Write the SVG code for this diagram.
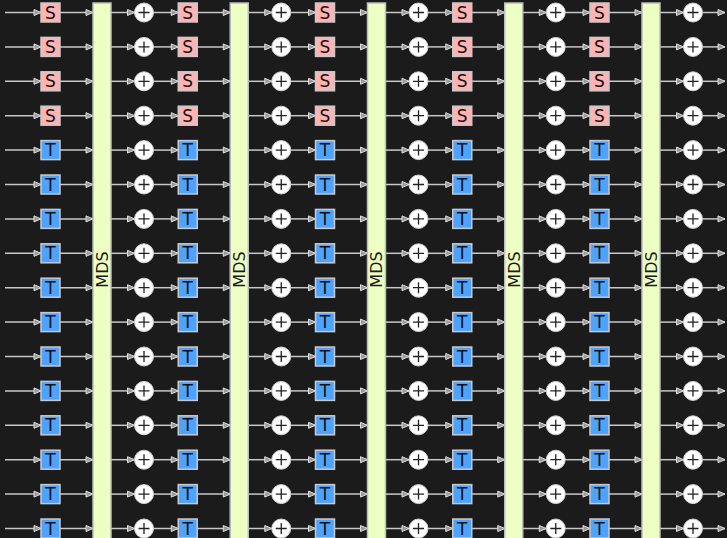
<svg xmlns="http://www.w3.org/2000/svg" xmlns:xlink="http://www.w3.org/1999/xlink" width="727" height="538" viewBox="0 0 727 538">
<style>
.bg{fill:#1b1b1b}
.s rect{fill:#ffb3b3;stroke:#c9c9c9;stroke-width:1.5}
.t rect{fill:#4da3ff;stroke:#c9c9c9;stroke-width:1.5}
.s text,.t text{font-family:"DejaVu Sans","Liberation Sans",sans-serif;font-size:17px;fill:#111;text-anchor:middle}
.x circle{fill:#fff;stroke:#cfcfcf;stroke-width:1}
.x path{stroke:#222;stroke-width:1.3;fill:none}
.m rect{fill:#eeffc4;stroke:#bdbdbd;stroke-width:1.5}
.m text{font-family:"DejaVu Sans","Liberation Sans",sans-serif;font-size:16px;fill:#1a1a1a;text-anchor:middle}
</style>
<defs>
<marker id="ah" markerUnits="userSpaceOnUse" markerWidth="10" markerHeight="10" refX="7.5" refY="3.5" orient="auto" overflow="visible">
<path d="M0.5,0.5 L7.5,3.5 L0.5,6.5 z" fill="#9a9a9a" stroke="#dedede" stroke-width="1"/>
</marker>
<g id="row" stroke="#c8c8c8" stroke-width="1.5" marker-end="url(#ah)">
<line x1="5" y1="0" x2="41" y2="0"/>
<line x1="60" y1="0" x2="93" y2="0"/><line x1="111" y1="0" x2="134.5" y2="0"/><line x1="153.5" y1="0" x2="178.25" y2="0"/>
<line x1="197.25" y1="0" x2="230.25" y2="0"/><line x1="248.25" y1="0" x2="271.75" y2="0"/><line x1="290.75" y1="0" x2="315.5" y2="0"/>
<line x1="334.5" y1="0" x2="367.5" y2="0"/><line x1="385.5" y1="0" x2="409" y2="0"/><line x1="428" y1="0" x2="452.75" y2="0"/>
<line x1="471.75" y1="0" x2="504.75" y2="0"/><line x1="522.75" y1="0" x2="546.25" y2="0"/><line x1="565.25" y1="0" x2="590" y2="0"/>
<line x1="609" y1="0" x2="642" y2="0"/><line x1="660" y1="0" x2="683.5" y2="0"/><line x1="702.5" y1="0" x2="725" y2="0"/>
</g>
</defs>
<rect class="bg" width="727" height="538"/>
<g id="conn">
<use xlink:href="#row" href="#row" y="12.5"/>
<use xlink:href="#row" href="#row" y="46.9"/>
<use xlink:href="#row" href="#row" y="81.3"/>
<use xlink:href="#row" href="#row" y="115.7"/>
<use xlink:href="#row" href="#row" y="150.1"/>
<use xlink:href="#row" href="#row" y="184.5"/>
<use xlink:href="#row" href="#row" y="218.9"/>
<use xlink:href="#row" href="#row" y="253.3"/>
<use xlink:href="#row" href="#row" y="287.7"/>
<use xlink:href="#row" href="#row" y="322.1"/>
<use xlink:href="#row" href="#row" y="356.5"/>
<use xlink:href="#row" href="#row" y="390.9"/>
<use xlink:href="#row" href="#row" y="425.3"/>
<use xlink:href="#row" href="#row" y="459.7"/>
<use xlink:href="#row" href="#row" y="494.1"/>
<use xlink:href="#row" href="#row" y="528.5"/>
</g>
<g id="mds">
<g id="mds1" class="m"><rect x="93" y="3" width="18" height="540"/><text transform="translate(107.8,269.5) rotate(-90)">MDS</text></g>
<g id="mds2" class="m"><rect x="230.25" y="3" width="18" height="540"/><text transform="translate(245.05,269.5) rotate(-90)">MDS</text></g>
<g id="mds3" class="m"><rect x="367.5" y="3" width="18" height="540"/><text transform="translate(382.3,269.5) rotate(-90)">MDS</text></g>
<g id="mds4" class="m"><rect x="504.75" y="3" width="18" height="540"/><text transform="translate(519.55,269.5) rotate(-90)">MDS</text></g>
<g id="mds5" class="m"><rect x="642" y="3" width="18" height="540"/><text transform="translate(656.8,269.5) rotate(-90)">MDS</text></g>
</g>
<g id="r0" transform="translate(0,3)">
<g id="b0_0" class="s" transform="translate(41,0)"><rect width="19" height="19"/><text x="9.5" y="15.6">S</text></g>
<g id="b0_1" class="s" transform="translate(178.25,0)"><rect width="19" height="19"/><text x="9.5" y="15.6">S</text></g>
<g id="b0_2" class="s" transform="translate(315.5,0)"><rect width="19" height="19"/><text x="9.5" y="15.6">S</text></g>
<g id="b0_3" class="s" transform="translate(452.75,0)"><rect width="19" height="19"/><text x="9.5" y="15.6">S</text></g>
<g id="b0_4" class="s" transform="translate(590,0)"><rect width="19" height="19"/><text x="9.5" y="15.6">S</text></g>
<g id="x0_0" class="x" transform="translate(144,9.5)"><circle r="9.5"/><path d="M-5.5 0H5.5M0-5.5V5.5"/></g>
<g id="x0_1" class="x" transform="translate(281.25,9.5)"><circle r="9.5"/><path d="M-5.5 0H5.5M0-5.5V5.5"/></g>
<g id="x0_2" class="x" transform="translate(418.5,9.5)"><circle r="9.5"/><path d="M-5.5 0H5.5M0-5.5V5.5"/></g>
<g id="x0_3" class="x" transform="translate(555.75,9.5)"><circle r="9.5"/><path d="M-5.5 0H5.5M0-5.5V5.5"/></g>
<g id="x0_4" class="x" transform="translate(693,9.5)"><circle r="9.5"/><path d="M-5.5 0H5.5M0-5.5V5.5"/></g>
</g>
<g id="r1" transform="translate(0,37.4)">
<g id="b1_0" class="s" transform="translate(41,0)"><rect width="19" height="19"/><text x="9.5" y="15.6">S</text></g>
<g id="b1_1" class="s" transform="translate(178.25,0)"><rect width="19" height="19"/><text x="9.5" y="15.6">S</text></g>
<g id="b1_2" class="s" transform="translate(315.5,0)"><rect width="19" height="19"/><text x="9.5" y="15.6">S</text></g>
<g id="b1_3" class="s" transform="translate(452.75,0)"><rect width="19" height="19"/><text x="9.5" y="15.6">S</text></g>
<g id="b1_4" class="s" transform="translate(590,0)"><rect width="19" height="19"/><text x="9.5" y="15.6">S</text></g>
<g id="x1_0" class="x" transform="translate(144,9.5)"><circle r="9.5"/><path d="M-5.5 0H5.5M0-5.5V5.5"/></g>
<g id="x1_1" class="x" transform="translate(281.25,9.5)"><circle r="9.5"/><path d="M-5.5 0H5.5M0-5.5V5.5"/></g>
<g id="x1_2" class="x" transform="translate(418.5,9.5)"><circle r="9.5"/><path d="M-5.5 0H5.5M0-5.5V5.5"/></g>
<g id="x1_3" class="x" transform="translate(555.75,9.5)"><circle r="9.5"/><path d="M-5.5 0H5.5M0-5.5V5.5"/></g>
<g id="x1_4" class="x" transform="translate(693,9.5)"><circle r="9.5"/><path d="M-5.5 0H5.5M0-5.5V5.5"/></g>
</g>
<g id="r2" transform="translate(0,71.8)">
<g id="b2_0" class="s" transform="translate(41,0)"><rect width="19" height="19"/><text x="9.5" y="15.6">S</text></g>
<g id="b2_1" class="s" transform="translate(178.25,0)"><rect width="19" height="19"/><text x="9.5" y="15.6">S</text></g>
<g id="b2_2" class="s" transform="translate(315.5,0)"><rect width="19" height="19"/><text x="9.5" y="15.6">S</text></g>
<g id="b2_3" class="s" transform="translate(452.75,0)"><rect width="19" height="19"/><text x="9.5" y="15.6">S</text></g>
<g id="b2_4" class="s" transform="translate(590,0)"><rect width="19" height="19"/><text x="9.5" y="15.6">S</text></g>
<g id="x2_0" class="x" transform="translate(144,9.5)"><circle r="9.5"/><path d="M-5.5 0H5.5M0-5.5V5.5"/></g>
<g id="x2_1" class="x" transform="translate(281.25,9.5)"><circle r="9.5"/><path d="M-5.5 0H5.5M0-5.5V5.5"/></g>
<g id="x2_2" class="x" transform="translate(418.5,9.5)"><circle r="9.5"/><path d="M-5.5 0H5.5M0-5.5V5.5"/></g>
<g id="x2_3" class="x" transform="translate(555.75,9.5)"><circle r="9.5"/><path d="M-5.5 0H5.5M0-5.5V5.5"/></g>
<g id="x2_4" class="x" transform="translate(693,9.5)"><circle r="9.5"/><path d="M-5.5 0H5.5M0-5.5V5.5"/></g>
</g>
<g id="r3" transform="translate(0,106.2)">
<g id="b3_0" class="s" transform="translate(41,0)"><rect width="19" height="19"/><text x="9.5" y="15.6">S</text></g>
<g id="b3_1" class="s" transform="translate(178.25,0)"><rect width="19" height="19"/><text x="9.5" y="15.6">S</text></g>
<g id="b3_2" class="s" transform="translate(315.5,0)"><rect width="19" height="19"/><text x="9.5" y="15.6">S</text></g>
<g id="b3_3" class="s" transform="translate(452.75,0)"><rect width="19" height="19"/><text x="9.5" y="15.6">S</text></g>
<g id="b3_4" class="s" transform="translate(590,0)"><rect width="19" height="19"/><text x="9.5" y="15.6">S</text></g>
<g id="x3_0" class="x" transform="translate(144,9.5)"><circle r="9.5"/><path d="M-5.5 0H5.5M0-5.5V5.5"/></g>
<g id="x3_1" class="x" transform="translate(281.25,9.5)"><circle r="9.5"/><path d="M-5.5 0H5.5M0-5.5V5.5"/></g>
<g id="x3_2" class="x" transform="translate(418.5,9.5)"><circle r="9.5"/><path d="M-5.5 0H5.5M0-5.5V5.5"/></g>
<g id="x3_3" class="x" transform="translate(555.75,9.5)"><circle r="9.5"/><path d="M-5.5 0H5.5M0-5.5V5.5"/></g>
<g id="x3_4" class="x" transform="translate(693,9.5)"><circle r="9.5"/><path d="M-5.5 0H5.5M0-5.5V5.5"/></g>
</g>
<g id="r4" transform="translate(0,140.6)">
<g id="b4_0" class="t" transform="translate(41,0)"><rect width="19" height="19"/><text x="9.5" y="15.6">T</text></g>
<g id="b4_1" class="t" transform="translate(178.25,0)"><rect width="19" height="19"/><text x="9.5" y="15.6">T</text></g>
<g id="b4_2" class="t" transform="translate(315.5,0)"><rect width="19" height="19"/><text x="9.5" y="15.6">T</text></g>
<g id="b4_3" class="t" transform="translate(452.75,0)"><rect width="19" height="19"/><text x="9.5" y="15.6">T</text></g>
<g id="b4_4" class="t" transform="translate(590,0)"><rect width="19" height="19"/><text x="9.5" y="15.6">T</text></g>
<g id="x4_0" class="x" transform="translate(144,9.5)"><circle r="9.5"/><path d="M-5.5 0H5.5M0-5.5V5.5"/></g>
<g id="x4_1" class="x" transform="translate(281.25,9.5)"><circle r="9.5"/><path d="M-5.5 0H5.5M0-5.5V5.5"/></g>
<g id="x4_2" class="x" transform="translate(418.5,9.5)"><circle r="9.5"/><path d="M-5.5 0H5.5M0-5.5V5.5"/></g>
<g id="x4_3" class="x" transform="translate(555.75,9.5)"><circle r="9.5"/><path d="M-5.5 0H5.5M0-5.5V5.5"/></g>
<g id="x4_4" class="x" transform="translate(693,9.5)"><circle r="9.5"/><path d="M-5.5 0H5.5M0-5.5V5.5"/></g>
</g>
<g id="r5" transform="translate(0,175)">
<g id="b5_0" class="t" transform="translate(41,0)"><rect width="19" height="19"/><text x="9.5" y="15.6">T</text></g>
<g id="b5_1" class="t" transform="translate(178.25,0)"><rect width="19" height="19"/><text x="9.5" y="15.6">T</text></g>
<g id="b5_2" class="t" transform="translate(315.5,0)"><rect width="19" height="19"/><text x="9.5" y="15.6">T</text></g>
<g id="b5_3" class="t" transform="translate(452.75,0)"><rect width="19" height="19"/><text x="9.5" y="15.6">T</text></g>
<g id="b5_4" class="t" transform="translate(590,0)"><rect width="19" height="19"/><text x="9.5" y="15.6">T</text></g>
<g id="x5_0" class="x" transform="translate(144,9.5)"><circle r="9.5"/><path d="M-5.5 0H5.5M0-5.5V5.5"/></g>
<g id="x5_1" class="x" transform="translate(281.25,9.5)"><circle r="9.5"/><path d="M-5.5 0H5.5M0-5.5V5.5"/></g>
<g id="x5_2" class="x" transform="translate(418.5,9.5)"><circle r="9.5"/><path d="M-5.5 0H5.5M0-5.5V5.5"/></g>
<g id="x5_3" class="x" transform="translate(555.75,9.5)"><circle r="9.5"/><path d="M-5.5 0H5.5M0-5.5V5.5"/></g>
<g id="x5_4" class="x" transform="translate(693,9.5)"><circle r="9.5"/><path d="M-5.5 0H5.5M0-5.5V5.5"/></g>
</g>
<g id="r6" transform="translate(0,209.4)">
<g id="b6_0" class="t" transform="translate(41,0)"><rect width="19" height="19"/><text x="9.5" y="15.6">T</text></g>
<g id="b6_1" class="t" transform="translate(178.25,0)"><rect width="19" height="19"/><text x="9.5" y="15.6">T</text></g>
<g id="b6_2" class="t" transform="translate(315.5,0)"><rect width="19" height="19"/><text x="9.5" y="15.6">T</text></g>
<g id="b6_3" class="t" transform="translate(452.75,0)"><rect width="19" height="19"/><text x="9.5" y="15.6">T</text></g>
<g id="b6_4" class="t" transform="translate(590,0)"><rect width="19" height="19"/><text x="9.5" y="15.6">T</text></g>
<g id="x6_0" class="x" transform="translate(144,9.5)"><circle r="9.5"/><path d="M-5.5 0H5.5M0-5.5V5.5"/></g>
<g id="x6_1" class="x" transform="translate(281.25,9.5)"><circle r="9.5"/><path d="M-5.5 0H5.5M0-5.5V5.5"/></g>
<g id="x6_2" class="x" transform="translate(418.5,9.5)"><circle r="9.5"/><path d="M-5.5 0H5.5M0-5.5V5.5"/></g>
<g id="x6_3" class="x" transform="translate(555.75,9.5)"><circle r="9.5"/><path d="M-5.5 0H5.5M0-5.5V5.5"/></g>
<g id="x6_4" class="x" transform="translate(693,9.5)"><circle r="9.5"/><path d="M-5.5 0H5.5M0-5.5V5.5"/></g>
</g>
<g id="r7" transform="translate(0,243.8)">
<g id="b7_0" class="t" transform="translate(41,0)"><rect width="19" height="19"/><text x="9.5" y="15.6">T</text></g>
<g id="b7_1" class="t" transform="translate(178.25,0)"><rect width="19" height="19"/><text x="9.5" y="15.6">T</text></g>
<g id="b7_2" class="t" transform="translate(315.5,0)"><rect width="19" height="19"/><text x="9.5" y="15.6">T</text></g>
<g id="b7_3" class="t" transform="translate(452.75,0)"><rect width="19" height="19"/><text x="9.5" y="15.6">T</text></g>
<g id="b7_4" class="t" transform="translate(590,0)"><rect width="19" height="19"/><text x="9.5" y="15.6">T</text></g>
<g id="x7_0" class="x" transform="translate(144,9.5)"><circle r="9.5"/><path d="M-5.5 0H5.5M0-5.5V5.5"/></g>
<g id="x7_1" class="x" transform="translate(281.25,9.5)"><circle r="9.5"/><path d="M-5.5 0H5.5M0-5.5V5.5"/></g>
<g id="x7_2" class="x" transform="translate(418.5,9.5)"><circle r="9.5"/><path d="M-5.5 0H5.5M0-5.5V5.5"/></g>
<g id="x7_3" class="x" transform="translate(555.75,9.5)"><circle r="9.5"/><path d="M-5.5 0H5.5M0-5.5V5.5"/></g>
<g id="x7_4" class="x" transform="translate(693,9.5)"><circle r="9.5"/><path d="M-5.5 0H5.5M0-5.5V5.5"/></g>
</g>
<g id="r8" transform="translate(0,278.2)">
<g id="b8_0" class="t" transform="translate(41,0)"><rect width="19" height="19"/><text x="9.5" y="15.6">T</text></g>
<g id="b8_1" class="t" transform="translate(178.25,0)"><rect width="19" height="19"/><text x="9.5" y="15.6">T</text></g>
<g id="b8_2" class="t" transform="translate(315.5,0)"><rect width="19" height="19"/><text x="9.5" y="15.6">T</text></g>
<g id="b8_3" class="t" transform="translate(452.75,0)"><rect width="19" height="19"/><text x="9.5" y="15.6">T</text></g>
<g id="b8_4" class="t" transform="translate(590,0)"><rect width="19" height="19"/><text x="9.5" y="15.6">T</text></g>
<g id="x8_0" class="x" transform="translate(144,9.5)"><circle r="9.5"/><path d="M-5.5 0H5.5M0-5.5V5.5"/></g>
<g id="x8_1" class="x" transform="translate(281.25,9.5)"><circle r="9.5"/><path d="M-5.5 0H5.5M0-5.5V5.5"/></g>
<g id="x8_2" class="x" transform="translate(418.5,9.5)"><circle r="9.5"/><path d="M-5.5 0H5.5M0-5.5V5.5"/></g>
<g id="x8_3" class="x" transform="translate(555.75,9.5)"><circle r="9.5"/><path d="M-5.5 0H5.5M0-5.5V5.5"/></g>
<g id="x8_4" class="x" transform="translate(693,9.5)"><circle r="9.5"/><path d="M-5.5 0H5.5M0-5.5V5.5"/></g>
</g>
<g id="r9" transform="translate(0,312.6)">
<g id="b9_0" class="t" transform="translate(41,0)"><rect width="19" height="19"/><text x="9.5" y="15.6">T</text></g>
<g id="b9_1" class="t" transform="translate(178.25,0)"><rect width="19" height="19"/><text x="9.5" y="15.6">T</text></g>
<g id="b9_2" class="t" transform="translate(315.5,0)"><rect width="19" height="19"/><text x="9.5" y="15.6">T</text></g>
<g id="b9_3" class="t" transform="translate(452.75,0)"><rect width="19" height="19"/><text x="9.5" y="15.6">T</text></g>
<g id="b9_4" class="t" transform="translate(590,0)"><rect width="19" height="19"/><text x="9.5" y="15.6">T</text></g>
<g id="x9_0" class="x" transform="translate(144,9.5)"><circle r="9.5"/><path d="M-5.5 0H5.5M0-5.5V5.5"/></g>
<g id="x9_1" class="x" transform="translate(281.25,9.5)"><circle r="9.5"/><path d="M-5.5 0H5.5M0-5.5V5.5"/></g>
<g id="x9_2" class="x" transform="translate(418.5,9.5)"><circle r="9.5"/><path d="M-5.5 0H5.5M0-5.5V5.5"/></g>
<g id="x9_3" class="x" transform="translate(555.75,9.5)"><circle r="9.5"/><path d="M-5.5 0H5.5M0-5.5V5.5"/></g>
<g id="x9_4" class="x" transform="translate(693,9.5)"><circle r="9.5"/><path d="M-5.5 0H5.5M0-5.5V5.5"/></g>
</g>
<g id="r10" transform="translate(0,347)">
<g id="b10_0" class="t" transform="translate(41,0)"><rect width="19" height="19"/><text x="9.5" y="15.6">T</text></g>
<g id="b10_1" class="t" transform="translate(178.25,0)"><rect width="19" height="19"/><text x="9.5" y="15.6">T</text></g>
<g id="b10_2" class="t" transform="translate(315.5,0)"><rect width="19" height="19"/><text x="9.5" y="15.6">T</text></g>
<g id="b10_3" class="t" transform="translate(452.75,0)"><rect width="19" height="19"/><text x="9.5" y="15.6">T</text></g>
<g id="b10_4" class="t" transform="translate(590,0)"><rect width="19" height="19"/><text x="9.5" y="15.6">T</text></g>
<g id="x10_0" class="x" transform="translate(144,9.5)"><circle r="9.5"/><path d="M-5.5 0H5.5M0-5.5V5.5"/></g>
<g id="x10_1" class="x" transform="translate(281.25,9.5)"><circle r="9.5"/><path d="M-5.5 0H5.5M0-5.5V5.5"/></g>
<g id="x10_2" class="x" transform="translate(418.5,9.5)"><circle r="9.5"/><path d="M-5.5 0H5.5M0-5.5V5.5"/></g>
<g id="x10_3" class="x" transform="translate(555.75,9.5)"><circle r="9.5"/><path d="M-5.5 0H5.5M0-5.5V5.5"/></g>
<g id="x10_4" class="x" transform="translate(693,9.5)"><circle r="9.5"/><path d="M-5.5 0H5.5M0-5.5V5.5"/></g>
</g>
<g id="r11" transform="translate(0,381.4)">
<g id="b11_0" class="t" transform="translate(41,0)"><rect width="19" height="19"/><text x="9.5" y="15.6">T</text></g>
<g id="b11_1" class="t" transform="translate(178.25,0)"><rect width="19" height="19"/><text x="9.5" y="15.6">T</text></g>
<g id="b11_2" class="t" transform="translate(315.5,0)"><rect width="19" height="19"/><text x="9.5" y="15.6">T</text></g>
<g id="b11_3" class="t" transform="translate(452.75,0)"><rect width="19" height="19"/><text x="9.5" y="15.6">T</text></g>
<g id="b11_4" class="t" transform="translate(590,0)"><rect width="19" height="19"/><text x="9.5" y="15.6">T</text></g>
<g id="x11_0" class="x" transform="translate(144,9.5)"><circle r="9.5"/><path d="M-5.5 0H5.5M0-5.5V5.5"/></g>
<g id="x11_1" class="x" transform="translate(281.25,9.5)"><circle r="9.5"/><path d="M-5.5 0H5.5M0-5.5V5.5"/></g>
<g id="x11_2" class="x" transform="translate(418.5,9.5)"><circle r="9.5"/><path d="M-5.5 0H5.5M0-5.5V5.5"/></g>
<g id="x11_3" class="x" transform="translate(555.75,9.5)"><circle r="9.5"/><path d="M-5.5 0H5.5M0-5.5V5.5"/></g>
<g id="x11_4" class="x" transform="translate(693,9.5)"><circle r="9.5"/><path d="M-5.5 0H5.5M0-5.5V5.5"/></g>
</g>
<g id="r12" transform="translate(0,415.8)">
<g id="b12_0" class="t" transform="translate(41,0)"><rect width="19" height="19"/><text x="9.5" y="15.6">T</text></g>
<g id="b12_1" class="t" transform="translate(178.25,0)"><rect width="19" height="19"/><text x="9.5" y="15.6">T</text></g>
<g id="b12_2" class="t" transform="translate(315.5,0)"><rect width="19" height="19"/><text x="9.5" y="15.6">T</text></g>
<g id="b12_3" class="t" transform="translate(452.75,0)"><rect width="19" height="19"/><text x="9.5" y="15.6">T</text></g>
<g id="b12_4" class="t" transform="translate(590,0)"><rect width="19" height="19"/><text x="9.5" y="15.6">T</text></g>
<g id="x12_0" class="x" transform="translate(144,9.5)"><circle r="9.5"/><path d="M-5.5 0H5.5M0-5.5V5.5"/></g>
<g id="x12_1" class="x" transform="translate(281.25,9.5)"><circle r="9.5"/><path d="M-5.5 0H5.5M0-5.5V5.5"/></g>
<g id="x12_2" class="x" transform="translate(418.5,9.5)"><circle r="9.5"/><path d="M-5.5 0H5.5M0-5.5V5.5"/></g>
<g id="x12_3" class="x" transform="translate(555.75,9.5)"><circle r="9.5"/><path d="M-5.5 0H5.5M0-5.5V5.5"/></g>
<g id="x12_4" class="x" transform="translate(693,9.5)"><circle r="9.5"/><path d="M-5.5 0H5.5M0-5.5V5.5"/></g>
</g>
<g id="r13" transform="translate(0,450.2)">
<g id="b13_0" class="t" transform="translate(41,0)"><rect width="19" height="19"/><text x="9.5" y="15.6">T</text></g>
<g id="b13_1" class="t" transform="translate(178.25,0)"><rect width="19" height="19"/><text x="9.5" y="15.6">T</text></g>
<g id="b13_2" class="t" transform="translate(315.5,0)"><rect width="19" height="19"/><text x="9.5" y="15.6">T</text></g>
<g id="b13_3" class="t" transform="translate(452.75,0)"><rect width="19" height="19"/><text x="9.5" y="15.6">T</text></g>
<g id="b13_4" class="t" transform="translate(590,0)"><rect width="19" height="19"/><text x="9.5" y="15.6">T</text></g>
<g id="x13_0" class="x" transform="translate(144,9.5)"><circle r="9.5"/><path d="M-5.5 0H5.5M0-5.5V5.5"/></g>
<g id="x13_1" class="x" transform="translate(281.25,9.5)"><circle r="9.5"/><path d="M-5.5 0H5.5M0-5.5V5.5"/></g>
<g id="x13_2" class="x" transform="translate(418.5,9.5)"><circle r="9.5"/><path d="M-5.5 0H5.5M0-5.5V5.5"/></g>
<g id="x13_3" class="x" transform="translate(555.75,9.5)"><circle r="9.5"/><path d="M-5.5 0H5.5M0-5.5V5.5"/></g>
<g id="x13_4" class="x" transform="translate(693,9.5)"><circle r="9.5"/><path d="M-5.5 0H5.5M0-5.5V5.5"/></g>
</g>
<g id="r14" transform="translate(0,484.6)">
<g id="b14_0" class="t" transform="translate(41,0)"><rect width="19" height="19"/><text x="9.5" y="15.6">T</text></g>
<g id="b14_1" class="t" transform="translate(178.25,0)"><rect width="19" height="19"/><text x="9.5" y="15.6">T</text></g>
<g id="b14_2" class="t" transform="translate(315.5,0)"><rect width="19" height="19"/><text x="9.5" y="15.6">T</text></g>
<g id="b14_3" class="t" transform="translate(452.75,0)"><rect width="19" height="19"/><text x="9.5" y="15.6">T</text></g>
<g id="b14_4" class="t" transform="translate(590,0)"><rect width="19" height="19"/><text x="9.5" y="15.6">T</text></g>
<g id="x14_0" class="x" transform="translate(144,9.5)"><circle r="9.5"/><path d="M-5.5 0H5.5M0-5.5V5.5"/></g>
<g id="x14_1" class="x" transform="translate(281.25,9.5)"><circle r="9.5"/><path d="M-5.5 0H5.5M0-5.5V5.5"/></g>
<g id="x14_2" class="x" transform="translate(418.5,9.5)"><circle r="9.5"/><path d="M-5.5 0H5.5M0-5.5V5.5"/></g>
<g id="x14_3" class="x" transform="translate(555.75,9.5)"><circle r="9.5"/><path d="M-5.5 0H5.5M0-5.5V5.5"/></g>
<g id="x14_4" class="x" transform="translate(693,9.5)"><circle r="9.5"/><path d="M-5.5 0H5.5M0-5.5V5.5"/></g>
</g>
<g id="r15" transform="translate(0,519)">
<g id="b15_0" class="t" transform="translate(41,0)"><rect width="19" height="19"/><text x="9.5" y="15.6">T</text></g>
<g id="b15_1" class="t" transform="translate(178.25,0)"><rect width="19" height="19"/><text x="9.5" y="15.6">T</text></g>
<g id="b15_2" class="t" transform="translate(315.5,0)"><rect width="19" height="19"/><text x="9.5" y="15.6">T</text></g>
<g id="b15_3" class="t" transform="translate(452.75,0)"><rect width="19" height="19"/><text x="9.5" y="15.6">T</text></g>
<g id="b15_4" class="t" transform="translate(590,0)"><rect width="19" height="19"/><text x="9.5" y="15.6">T</text></g>
<g id="x15_0" class="x" transform="translate(144,9.5)"><circle r="9.5"/><path d="M-5.5 0H5.5M0-5.5V5.5"/></g>
<g id="x15_1" class="x" transform="translate(281.25,9.5)"><circle r="9.5"/><path d="M-5.5 0H5.5M0-5.5V5.5"/></g>
<g id="x15_2" class="x" transform="translate(418.5,9.5)"><circle r="9.5"/><path d="M-5.5 0H5.5M0-5.5V5.5"/></g>
<g id="x15_3" class="x" transform="translate(555.75,9.5)"><circle r="9.5"/><path d="M-5.5 0H5.5M0-5.5V5.5"/></g>
<g id="x15_4" class="x" transform="translate(693,9.5)"><circle r="9.5"/><path d="M-5.5 0H5.5M0-5.5V5.5"/></g>
</g>
</svg>
